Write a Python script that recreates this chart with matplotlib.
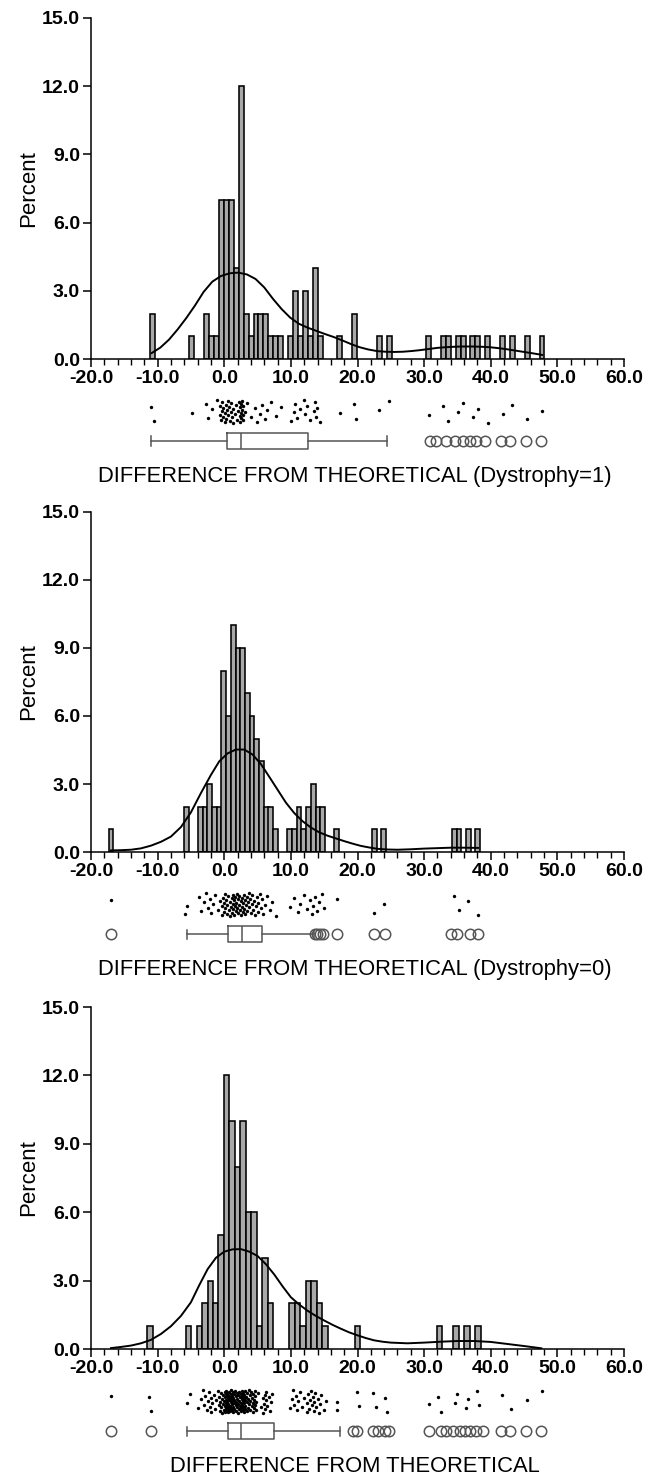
import numpy as np
import matplotlib.pyplot as plt
from matplotlib.ticker import MultipleLocator, FormatStrFormatter

plt.rcParams['font.family'] = ['Liberation Sans', 'DejaVu Sans']

# ---- Dystrophy = 1 ----
d1_mid = [-10.77, -4.85, -2.63, -1.89, -1.15, -0.41, 0.33, 1.07, 1.81, 2.55, 3.29, 4.03,
          4.77, 5.51, 6.25, 6.99, 7.73, 8.47, 9.95, 10.69, 11.43, 12.17, 12.91, 13.65,
          14.39, 17.35, 19.57, 23.27, 24.75, 30.67, 32.89, 33.63, 35.11, 35.85, 37.33,
          38.07, 39.55, 41.77, 43.25, 45.47, 47.69]
d1_pct = [2, 1, 2, 1, 1, 7, 7, 7, 4, 12, 2, 1, 2, 2, 2, 1, 1, 1, 1, 3, 1, 3, 1, 4, 1, 1, 2,
          1, 1, 1, 1, 1, 1, 1, 1, 1, 1, 1, 1, 1, 1]
d1_binw = 0.74
d1_kx = [-10.9, -9.6, -8.3, -7.0, -5.7, -4.4, -3.1, -1.8, -0.5, 0.8, 2.1, 3.4, 4.7, 6.0,
         7.3, 8.6, 9.9, 11.2, 12.5, 13.8, 15.1, 16.4, 17.7, 19.0, 20.3, 21.6, 22.9, 24.2,
         25.5, 26.8, 28.1, 29.4, 30.7, 32.0, 33.3, 34.6, 35.9, 37.2, 38.5, 39.8, 41.1,
         42.4, 43.7, 45.0, 46.3, 47.7]
d1_ky = [0.26, 0.5, 0.85, 1.3, 1.8, 2.35, 2.95, 3.4, 3.65, 3.77, 3.8, 3.72, 3.52, 3.15,
         2.65, 2.2, 1.82, 1.55, 1.38, 1.24, 1.1, 0.97, 0.82, 0.66, 0.52, 0.42, 0.35, 0.32,
         0.31, 0.32, 0.35, 0.39, 0.44, 0.49, 0.52, 0.54, 0.55, 0.55, 0.54, 0.52, 0.48,
         0.43, 0.37, 0.31, 0.25, 0.18]
d1_box = dict(whislo=-11.0, q1=0.45, med=2.5, q3=12.6, whishi=24.5)
d1_out = [30.85, 31.85, 33.25, 34.6, 35.85, 36.85, 37.85, 39.1, 41.6, 42.85, 45.35, 47.6]

# ---- Dystrophy = 0 ----
d0_mid = [-17.01, -5.71, -3.60, -2.89, -2.19, -1.48, -0.77, -0.07, 0.64, 1.34, 2.05, 2.76,
          3.46, 4.17, 4.87, 5.58, 6.29, 6.99, 7.70, 9.82, 10.52, 11.23, 11.94, 12.64,
          13.35, 14.05, 14.76, 16.88, 22.52, 23.94, 34.53, 35.23, 36.64, 38.06]
d0_pct = [1, 2, 2, 2, 3, 2, 2, 8, 6, 10, 9, 9, 7, 6, 5, 4, 2, 2, 1, 1, 1, 2, 1, 2, 3, 2, 2,
          1, 1, 1, 1, 1, 1, 1]
d0_binw = 0.706
d0_kx = [-17.0, -15.5, -14.0, -12.5, -11.0, -9.5, -8.0, -6.5, -5.0, -3.5, -2.0, -0.75,
         0.5, 1.75, 3.0, 4.25, 5.5, 6.75, 8.0, 9.25, 10.5, 11.75, 13.0, 14.25, 15.5, 16.75,
         18.0, 19.25, 20.5, 21.75, 23.0, 24.5, 26.0, 28.0, 30.0, 32.0, 34.0, 36.0, 38.1]
d0_ky = [0.07, 0.08, 0.1, 0.16, 0.28, 0.45, 0.68, 1.1, 1.75, 2.6, 3.4, 4.0,
         4.35, 4.52, 4.52, 4.3, 3.88, 3.32, 2.75, 2.18, 1.72, 1.36, 1.08, 0.87, 0.72, 0.6,
         0.48, 0.37, 0.27, 0.2, 0.14, 0.11, 0.1, 0.12, 0.15, 0.17, 0.19, 0.19, 0.18]
d0_box = dict(whislo=-5.65, q1=0.5, med=2.6, q3=5.7, whishi=13.45)
d0_out = [-17.05, 13.6, 13.9, 14.35, 14.75, 16.85, 22.45, 24.1, 34.0, 35.0, 36.85, 38.1]

# ---- all ----
all_mid = [-11.12, -5.38, -3.74, -2.92, -2.10, -1.28, -0.46, 0.36, 1.18, 2.00, 2.82, 3.64,
           4.46, 5.28, 6.10, 6.92, 10.20, 11.02, 11.84, 12.66, 13.48, 14.30, 15.12, 20.04,
           32.34, 34.80, 36.44, 38.08]
all_pct = [1, 1, 1, 2, 3, 2, 5, 12, 10, 8, 10, 6, 6, 1, 4, 2, 2, 2, 1, 3, 3, 2, 1, 1,
           1, 1, 1, 1]
all_binw = 0.82
all_extra = [-17.05, 16.85, 16.85, 22.35, 22.85, 24.1, 24.5, 30.75, 41.75, 43.0, 45.5, 47.75]
all_kx = [-17.0, -15.5, -14.0, -12.5, -11.0, -9.5, -8.0, -6.5, -5.0, -3.75, -2.5, -1.25,
          0.0, 1.25, 2.5, 3.75, 5.0, 6.25, 7.5, 8.75, 10.0, 11.25, 12.5, 13.75, 15.0,
          16.25, 17.5, 18.75, 20.0, 21.25, 22.5, 23.75, 25.0, 27.5, 30.0, 32.5, 35.0,
          37.5, 40.0, 42.5, 45.0, 47.6]
all_ky = [0.04, 0.09, 0.15, 0.25, 0.4, 0.66, 1.0, 1.45, 2.05, 2.8, 3.5, 4.0,
          4.27, 4.37, 4.38, 4.27, 4.08, 3.72, 3.27, 2.75, 2.27, 1.95, 1.68, 1.45, 1.25,
          1.06, 0.89, 0.73, 0.6, 0.48, 0.38, 0.32, 0.28, 0.25, 0.28, 0.32, 0.35,
          0.35, 0.31, 0.22, 0.13, 0.03]
all_box = dict(whislo=-5.55, q1=0.5, med=2.5, q3=7.5, whishi=17.35)
all_out = [-17.05, -11.05, 19.35, 19.85, 22.35, 23.1, 24.1, 24.75, 30.75, 32.6, 33.35,
           34.35, 35.35, 36.1, 36.85, 37.85, 38.85, 41.6, 42.85, 45.35, 47.6]

W, H = 651, 1479
fig = plt.figure(figsize=(W / 100, H / 100), dpi=100)


def rect(x0, y0, x1, y1):
    return [x0 / W, 1 - y1 / H, (x1 - x0) / W, (y1 - y0) / H]


def panel(top, base, title, mid, pct, binw, kx, ky, box, out, per_pct, extra=()):
    ax = fig.add_axes(rect(91, top, 624, base))
    ax.bar(mid, pct, width=binw, color='#a8a8a8', edgecolor='black', linewidth=1.15)
    ax.plot(kx, ky, color='black', linewidth=1.4)
    ax.set_xlim(-20, 60)
    ax.set_ylim(0, 15)
    for s in ['top', 'right']:
        ax.spines[s].set_visible(False)
    for s in ['left', 'bottom']:
        ax.spines[s].set_linewidth(1.1)
    ax.xaxis.set_major_locator(MultipleLocator(10))
    ax.xaxis.set_minor_locator(MultipleLocator(2))
    ax.yaxis.set_major_locator(MultipleLocator(3))
    ax.xaxis.set_major_formatter(FormatStrFormatter('%.1f'))
    ax.yaxis.set_major_formatter(FormatStrFormatter('%.1f'))
    ax.tick_params(which='major', length=6, width=1.1, labelsize=14, pad=2)
    ax.tick_params(which='minor', length=4, width=1.0)
    for lab in ax.get_xticklabels() + ax.get_yticklabels():
        lab.set_fontweight('bold')
    ax.set_ylabel('Percent', fontsize=16, labelpad=2)

    # observations for the dot strip, rebuilt from the bins
    xs = []
    for m, p in zip(mid, pct):
        n = int(round(p * per_pct))
        for j in range(n):
            xs.append(m + binw * 0.9 * ((j + 0.5) / n - 0.5))
    xs += list(extra)
    jit = [8 + 23 * ((i * 0.6180339887 + 0.31) % 1) for i in range(len(xs))]

    sx = fig.add_axes(rect(91, base + 33, 624, base + 93))
    sx.set_xlim(-20, 60)
    sx.set_ylim(60, 0)
    sx.axis('off')
    sx.scatter(xs, jit, s=6, color='black', linewidths=0)
    st = dict(box)
    st['fliers'] = out
    sx.bxp([st], positions=[49], widths=16, orientation='horizontal', capwidths=9,
           boxprops=dict(color='#555555', linewidth=1.1),
           whiskerprops=dict(color='#555555', linewidth=1.1),
           capprops=dict(color='#555555', linewidth=1.1),
           medianprops=dict(color='#555555', linewidth=1.1),
           flierprops=dict(marker='o', markersize=7.5, markerfacecolor='none',
                           markeredgecolor='#555555', markeredgewidth=1.1))
    fig.text((91 + 624) / 2 / W - 3 / W, 1 - (base + 118) / H, title, fontsize=15.8,
             ha='center', va='center')


panel(18, 359, 'DIFFERENCE FROM THEORETICAL (Dystrophy=1)',
      d1_mid, d1_pct, d1_binw, d1_kx, d1_ky, d1_box, d1_out, 1)
panel(512, 852, 'DIFFERENCE FROM THEORETICAL (Dystrophy=0)',
      d0_mid, d0_pct, d0_binw, d0_kx, d0_ky, d0_box, d0_out, 1)
panel(1007, 1349, 'DIFFERENCE FROM THEORETICAL',
      all_mid, all_pct, all_binw, all_kx, all_ky, all_box, all_out, 2, all_extra)

fig.savefig('out.png', dpi=100)
